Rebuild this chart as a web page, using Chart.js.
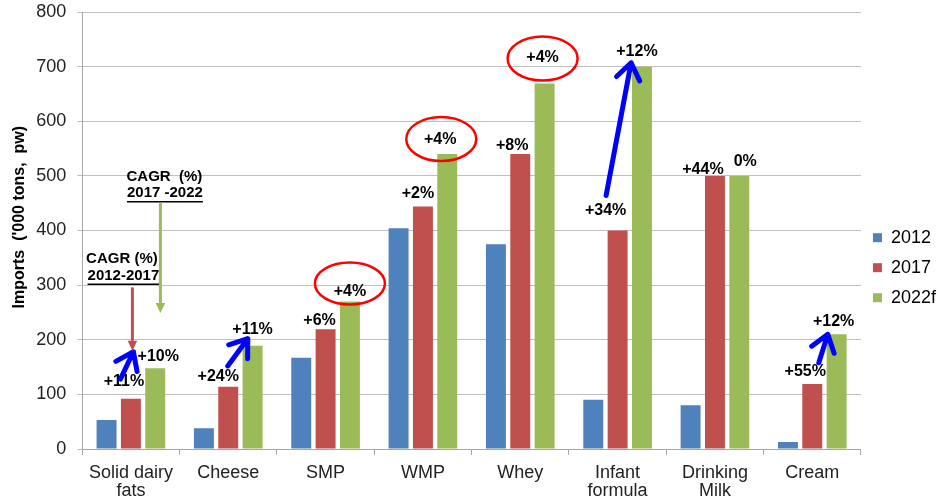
<!DOCTYPE html>
<html>
<head>
<meta charset="utf-8">
<script src="https://cdn.jsdelivr.net/npm/chart.js@4.4.1/dist/chart.umd.min.js"></script>
<style>
  html, body { margin: 0; padding: 0; background: #fff; }
  #wrap { width: 947px; height: 500px; }
</style>
</head>
<body>
<div id="wrap"><canvas id="importsChart"></canvas></div>
<script>
// data
const categories = [
  ['Solid dairy', 'fats'], 'Cheese', 'SMP', 'WMP', 'Whey',
  ['Infant', 'formula'], ['Drinking', 'Milk'], 'Cream'
];
const imports2012 = [53, 38, 167, 404, 375, 90, 80, 13];
const imports2017 = [92, 114, 219, 444, 540, 400, 500, 119];
const imports2022 = [148, 189, 270, 540, 669, 700, 500, 210];
const cagr1217 = ['+11%', '+24%', '+6%', '+2%', '+8%', '+34%', '+44%', '+55%'];
const cagr1722 = ['+10%', '+11%', '+4%', '+4%', '+4%', '+12%', '0%', '+12%'];
const yTicks = [0, 100, 200, 300, 400, 500, 600, 700, 800];

// label offsets from bar top (px)
const off1217 = [[-7, -17], [-10, -10], [-6, -9], [-5, -13], [-8, -8], [-12, -20], [-12, -6], [-7, -12]];
const off1722 = [[3, -12], [0, -16], [0, -10], [-7, -14], [-2, -26], [-5, -15], [6, -14], [-3, -13]];
const circled = [2, 3, 4];
const circleOff = { 2: [0, -18, 35, 21], 3: [-6, -15, 35, 22], 4: [-2, -25, 35, 22] };

// blue arrows: category, dx1, v1, dx2, v2
const blueArrows = [
  [0, -10.5, 128, 2.5, 178],
  [1, -0.5, 152, 19.5, 202],
  [5, -11.5, 464, 13.5, 707],
  [7, 6.5, 158, 15.5, 210]
];

function drawArrow(ctx, x1, y1, x2, y2, color, width, head, angle, filled) {
  const a = Math.atan2(y2 - y1, x2 - x1);
  ctx.save();
  ctx.strokeStyle = color;
  ctx.fillStyle = color;
  ctx.lineWidth = width;
  ctx.lineCap = 'round';
  ctx.lineJoin = 'round';
  if (filled) {
    const bx = x2 - head * Math.cos(a), by = y2 - head * Math.sin(a);
    ctx.beginPath();
    ctx.moveTo(x1, y1);
    ctx.lineTo(bx, by);
    ctx.stroke();
    ctx.beginPath();
    ctx.moveTo(x2, y2);
    ctx.lineTo(x2 - head * Math.cos(a - angle), y2 - head * Math.sin(a - angle));
    ctx.lineTo(x2 - head * Math.cos(a + angle), y2 - head * Math.sin(a + angle));
    ctx.closePath();
    ctx.fill();
  } else {
    ctx.beginPath();
    ctx.moveTo(x1, y1);
    ctx.lineTo(x2, y2);
    ctx.moveTo(x2 - head * Math.cos(a - angle), y2 - head * Math.sin(a - angle));
    ctx.lineTo(x2, y2);
    ctx.lineTo(x2 - head * Math.cos(a + angle), y2 - head * Math.sin(a + angle));
    ctx.stroke();
  }
  ctx.restore();
}

const annotations = {
  id: 'annotations',
  afterDatasetsDraw(chart) {
    const ctx = chart.ctx;
    const xs = chart.scales.x, ys = chart.scales.y;
    const red = chart.getDatasetMeta(1).data;
    const green = chart.getDatasetMeta(2).data;

    ctx.save();
    ctx.font = 'bold 16px "Liberation Sans", Arial, sans-serif';
    ctx.fillStyle = '#000';
    ctx.textAlign = 'center';
    ctx.textBaseline = 'middle';
    red.forEach((bar, i) => {
      ctx.fillText(cagr1217[i], bar.x + off1217[i][0], bar.y + off1217[i][1]);
    });
    green.forEach((bar, i) => {
      ctx.fillText(cagr1722[i], bar.x + off1722[i][0], bar.y + off1722[i][1]);
    });

    // red ellipses
    ctx.strokeStyle = '#ff0000';
    ctx.lineWidth = 2.5;
    circled.forEach(i => {
      const c = circleOff[i];
      ctx.beginPath();
      ctx.ellipse(green[i].x + c[0], green[i].y + c[1], c[2], c[3], 0, 0, Math.PI * 2);
      ctx.stroke();
    });

    // blue arrows
    blueArrows.forEach(a => {
      const cx = xs.getPixelForValue(a[0]);
      drawArrow(ctx, cx + a[1], ys.getPixelForValue(a[2]), cx + a[3], ys.getPixelForValue(a[4]),
        '#0000ff', 5, 20, Math.PI / 5, false);
    });

    // CAGR legends
    const c0 = xs.getPixelForValue(0);
    ctx.font = 'bold 15px "Liberation Sans", Arial, sans-serif';
    ctx.fillStyle = '#000';
    const texts = [
      ['CAGR (%)', -9, 348, false],
      ['2012-2017', -7.5, 317, true],
      ['CAGR  (%)', 33.5, 499, false],
      ['2017 -2022', 34, 468, true]
    ];
    texts.forEach(t => {
      const x = c0 + t[1], y = ys.getPixelForValue(t[2]);
      ctx.fillText(t[0], x, y);
      if (t[3]) {
        const w = ctx.measureText(t[0]).width;
        ctx.beginPath();
        ctx.strokeStyle = '#000';
        ctx.lineWidth = 1.5;
        ctx.moveTo(x - w / 2, y + 8.5);
        ctx.lineTo(x + w / 2, y + 8.5);
        ctx.stroke();
      }
    });
    drawArrow(ctx, c0 + 1.5, ys.getPixelForValue(294), c0 + 1.5, ys.getPixelForValue(180),
      '#c0504d', 3, 11, Math.PI / 7, true);
    drawArrow(ctx, c0 + 29.5, ys.getPixelForValue(449), c0 + 29.5, ys.getPixelForValue(249),
      '#9bbb59', 3, 11, Math.PI / 7, true);
    ctx.restore();
  }
};

new Chart(document.getElementById('importsChart'), {
  type: 'bar',
  data: {
    labels: categories,
    datasets: [
      { label: '2012', data: imports2012, backgroundColor: '#4f81bd' },
      { label: '2017', data: imports2017, backgroundColor: '#c0504d' },
      { label: '2022f', data: imports2022, backgroundColor: '#9bbb59' }
    ]
  },
  options: {
    responsive: true,
    maintainAspectRatio: false,
    animation: false,
    layout: { autoPadding: false, padding: { left: 10, right: 1, top: 12, bottom: -9 } },
    datasets: { bar: { categoryPercentage: 0.75, barPercentage: 0.82 } },
    scales: {
      x: {
        grid: { drawOnChartArea: false, drawTicks: true, tickLength: 6, color: '#a6a6a6' },
        border: { color: '#a6a6a6' },
        ticks: {
          color: '#222',
          font: { family: '"Liberation Sans", Arial, sans-serif', size: 18, lineHeight: 1.0 },
          padding: 9,
          maxRotation: 0,
          autoSkip: false
        }
      },
      y: {
        min: 0,
        max: 800,
        afterBuildTicks: (axis) => { axis.ticks = yTicks.map(v => ({ value: v })); },
        grid: { color: '#bfbfbf', tickLength: 5 },
        border: { color: '#a6a6a6' },
        ticks: {
          color: '#222',
          font: { family: '"Liberation Sans", Arial, sans-serif', size: 18, lineHeight: 0.1 },
          padding: 11
        },
        title: {
          display: true,
          text: "      Imports  ('000 tons,  pw)",
          color: '#000',
          font: { family: '"Liberation Sans", Arial, sans-serif', size: 16, weight: 'bold' },
          padding: { top: 0, bottom: -4 }
        }
      }
    },
    plugins: {
      legend: {
        position: 'right',
        align: 'center',
        title: { display: true, text: '', padding: 0 },
        labels: {
          boxWidth: 9,
          boxHeight: 9,
          padding: 12,
          color: '#000',
          font: { family: '"Liberation Sans", Arial, sans-serif', size: 18 }
        }
      },
      tooltip: { enabled: false }
    }
  },
  plugins: [annotations]
});
</script>
</body>
</html>
